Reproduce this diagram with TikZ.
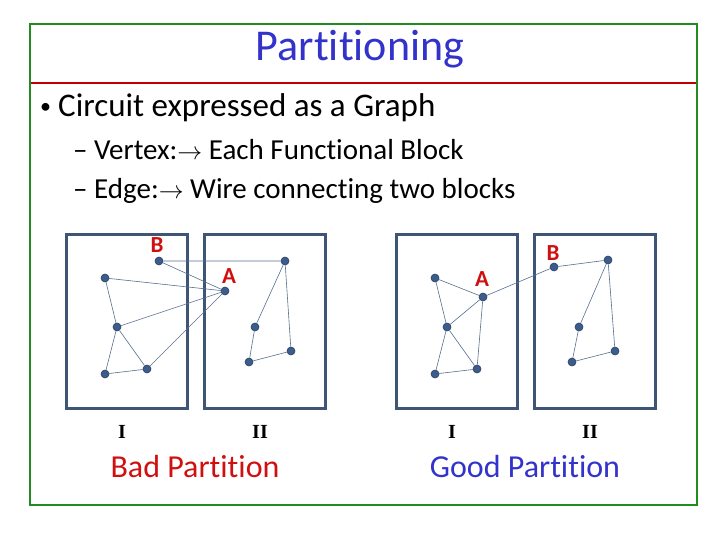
\documentclass[tikz,border=0pt]{standalone}
\usepackage{fontspec}
\setmainfont{Carlito}[Ligatures=NoCommon]
\newfontfamily\serifb{Liberation Serif}
\definecolor{frame}{HTML}{228B22}
\definecolor{rline}{HTML}{C00000}
\definecolor{ttl}{HTML}{3333CC}
\definecolor{boxc}{HTML}{3F5575}
\definecolor{edgec}{HTML}{56708F}
\definecolor{dotc}{HTML}{3C5C8C}
\definecolor{lblred}{HTML}{D01010}
\begin{document}
\begin{tikzpicture}[x=1pt,y=-1pt,
  part/.style={draw=boxc,line width=3pt},
  vtx/.style={circle,fill=dotc,draw=dotc!70!black,line width=0.6pt,inner sep=0pt,minimum size=8pt},
  wire/.style={draw=edgec,line width=0.6pt},
  vlab/.style={text=lblred,font=\fontsize{23}{25}\selectfont\bfseries,inner sep=0pt},
  roman/.style={font=\serifb\fontsize{20}{22}\selectfont\bfseries,inner sep=0pt,anchor=base},
  txt/.style={inner sep=0pt,anchor=base west}]
\useasboundingbox (0,0) rectangle (720,540);
\fill[white] (0,0) rectangle (720,540);
\draw[frame,line width=2.5pt] (30,24) rectangle (697,505);
\draw[rline,line width=2.5pt] (31,83) -- (696,83);
\node[inner sep=0pt,anchor=base,text=ttl,font=\fontsize{44}{48}\selectfont] (title) at (360,61) {Partitioning};
\node[txt,font=\fontsize{22}{24}\selectfont] (bul) at (40,114) {•};
\node[txt,font=\fontsize{33}{36}\selectfont] (l1) at (58,117) {Circuit expressed as a Graph};
\node[txt,font=\fontsize{29}{32}\selectfont] (l2) at (73,160) {– Vertex:$\rightarrow$ Each Functional Block};
\node[txt,font=\fontsize{29}{32}\selectfont] (l3) at (73,199) {– Edge:$\rightarrow$ Wire connecting two blocks};
% boxes
\draw[part] (66,234) rectangle (187,408);
\draw[part] (204,234) rectangle (325,408);
\draw[part] (396,234) rectangle (517,408);
\draw[part] (534,234) rectangle (655,408);
% bad partition nodes
\node[vtx] (bB) at (159,261) {};
\node[vtx] (b1) at (105,278) {};
\node[vtx] (bA) at (225,291) {};
\node[vtx] (b2) at (117,327) {};
\node[vtx] (b3) at (147,369) {};
\node[vtx] (b4) at (105,374) {};
\node[vtx] (c1) at (285,261) {};
\node[vtx] (c2) at (255,327) {};
\node[vtx] (c3) at (291,351) {};
\node[vtx] (c4) at (249,362) {};
\node[vlab] (bBl) at (157,245) {B};
\node[vlab] (bAl) at (229,276) {A};
\draw[wire] (bB) -- (c1) (bB) -- (bA) (b1) -- (bA) (b2) -- (bA) (b3) -- (bA)
  (b1) -- (b2) (b2) -- (b4) (b2) -- (b3) (b4) -- (b3)
  (c1) -- (c2) (c1) -- (c3) (c2) -- (c4) (c4) -- (c3);
% good partition nodes
\node[vtx] (g1) at (435,278) {};
\node[vtx] (gA) at (483,297) {};
\node[vtx] (g2) at (447,327) {};
\node[vtx] (g3) at (477,369) {};
\node[vtx] (g4) at (435,374) {};
\node[vtx] (gB) at (554,267) {};
\node[vtx] (h1) at (608,260) {};
\node[vtx] (h2) at (579,327) {};
\node[vtx] (h3) at (615,351) {};
\node[vtx] (h4) at (572,362) {};
\node[vlab] (gAl) at (482,279) {A};
\node[vlab] (gBl) at (553,253) {B};
\draw[wire] (g1) -- (gA) (gA) -- (g2) (gA) -- (g3) (g1) -- (g2) (g2) -- (g4) (g2) -- (g3) (g4) -- (g3)
  (gA) -- (gB) (gB) -- (h1) (h1) -- (h2) (h1) -- (h3) (h2) -- (h4) (h4) -- (h3);
% labels
\node[roman] (r1) at (122,438) {I};
\node[roman] (r2) at (260,438) {II};
\node[roman] (r3) at (452,438) {I};
\node[roman] (r4) at (590,438) {II};
\node[inner sep=0pt,anchor=base,text=lblred,font=\fontsize{32}{36}\selectfont] (bad) at (195,477) {Bad Partition};
\node[inner sep=0pt,anchor=base,text=ttl,font=\fontsize{32}{36}\selectfont] (good) at (525,477) {Good Partition};
\end{tikzpicture}
\end{document}
